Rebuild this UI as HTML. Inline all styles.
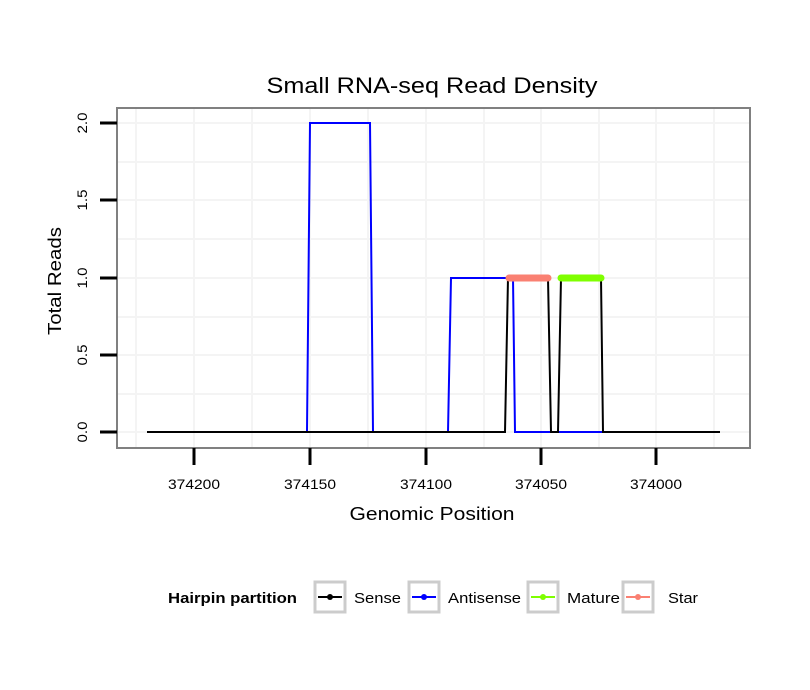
<!DOCTYPE html>
<html><head><meta charset="utf-8"><style>body{margin:0;background:#fff}svg{display:block;font-family:"Liberation Sans",sans-serif}</style></head><body>
<svg width="810" height="690" viewBox="0 0 810 690" xmlns="http://www.w3.org/2000/svg">
<rect width="810" height="690" fill="#fff"/>
<g stroke="#f4f4f4" stroke-width="2">
<line x1="136" y1="109" x2="136" y2="447"/><line x1="252" y1="109" x2="252" y2="447"/><line x1="368" y1="109" x2="368" y2="447"/><line x1="484" y1="109" x2="484" y2="447"/><line x1="599" y1="109" x2="599" y2="447"/><line x1="714" y1="109" x2="714" y2="447"/>
<line x1="194" y1="109" x2="194" y2="447"/><line x1="310" y1="109" x2="310" y2="447"/><line x1="426" y1="109" x2="426" y2="447"/><line x1="541" y1="109" x2="541" y2="447"/><line x1="656" y1="109" x2="656" y2="447"/>
<line x1="118" y1="394" x2="749" y2="394"/><line x1="118" y1="317" x2="749" y2="317"/><line x1="118" y1="239" x2="749" y2="239"/><line x1="118" y1="162" x2="749" y2="162"/>
<line x1="118" y1="432" x2="749" y2="432"/><line x1="118" y1="355" x2="749" y2="355"/><line x1="118" y1="278" x2="749" y2="278"/><line x1="118" y1="200" x2="749" y2="200"/><line x1="118" y1="123" x2="749" y2="123"/>
</g>
<polyline fill="none" stroke="#0000ff" stroke-width="2" points="147,432 307,432 310,123 370,123 373,432 448,432 451,278 508,278"/>
<polyline fill="none" stroke="#0000ff" stroke-width="2" points="513,278 515,432 602,432"/>
<polyline fill="none" stroke="#000" stroke-width="2" points="147,432 505,432 508,278 548,278 551,432 558,432 561,278 601,278 603,432 720,432"/>
<line x1="509" y1="278" x2="548" y2="278" stroke="#fa8072" stroke-width="7" stroke-linecap="round"/>
<line x1="561" y1="278" x2="601" y2="278" stroke="#7fff00" stroke-width="7" stroke-linecap="round"/>
<rect x="117" y="108" width="633" height="340" fill="none" stroke="#808080" stroke-width="2"/>
<g stroke="#000" stroke-width="3">
<line x1="100" y1="432" x2="117" y2="432"/><line x1="100" y1="355" x2="117" y2="355"/><line x1="100" y1="278" x2="117" y2="278"/><line x1="100" y1="200" x2="117" y2="200"/><line x1="100" y1="123" x2="117" y2="123"/>
<line x1="194" y1="448" x2="194" y2="465"/><line x1="310" y1="448" x2="310" y2="465"/><line x1="426" y1="448" x2="426" y2="465"/><line x1="541" y1="448" x2="541" y2="465"/><line x1="656" y1="448" x2="656" y2="465"/>
</g>
<g font-size="14" text-anchor="middle" lengthAdjust="spacingAndGlyphs">
<text x="194" y="489" textLength="52" lengthAdjust="spacingAndGlyphs">374200</text><text x="310" y="489" textLength="52" lengthAdjust="spacingAndGlyphs">374150</text><text x="426" y="489" textLength="52" lengthAdjust="spacingAndGlyphs">374100</text><text x="541" y="489" textLength="52" lengthAdjust="spacingAndGlyphs">374050</text><text x="656" y="489" textLength="52" lengthAdjust="spacingAndGlyphs">374000</text>
<text transform="translate(87,432) rotate(-90)" textLength="21" lengthAdjust="spacingAndGlyphs">0.0</text><text transform="translate(87,355) rotate(-90)" textLength="21" lengthAdjust="spacingAndGlyphs">0.5</text><text transform="translate(87,278) rotate(-90)" textLength="21" lengthAdjust="spacingAndGlyphs">1.0</text><text transform="translate(87,200) rotate(-90)" textLength="21" lengthAdjust="spacingAndGlyphs">1.5</text><text transform="translate(87,123) rotate(-90)" textLength="21" lengthAdjust="spacingAndGlyphs">2.0</text>
</g>
<text x="432" y="93" font-size="22" text-anchor="middle" textLength="331" lengthAdjust="spacingAndGlyphs">Small RNA-seq Read Density</text>
<text x="432" y="520" font-size="18" text-anchor="middle" textLength="165" lengthAdjust="spacingAndGlyphs">Genomic Position</text>
<text transform="translate(61,281) rotate(-90)" font-size="18" text-anchor="middle" textLength="108" lengthAdjust="spacingAndGlyphs">Total Reads</text>
<text x="168" y="603" font-size="15" font-weight="bold" textLength="129" lengthAdjust="spacingAndGlyphs">Hairpin partition</text>
<g stroke="#cccccc" stroke-width="3" fill="#fff">
<rect x="315" y="582" width="30" height="30"/><rect x="409" y="582" width="30" height="30"/><rect x="528" y="582" width="30" height="30"/><rect x="623" y="582" width="30" height="30"/>
</g>
<g stroke-width="2">
<line x1="318" y1="597" x2="342" y2="597" stroke="#000"/><circle cx="330" cy="597" r="3" fill="#000"/>
<line x1="412" y1="597" x2="436" y2="597" stroke="#0000ff"/><circle cx="424" cy="597" r="3" fill="#0000ff"/>
<line x1="531" y1="597" x2="555" y2="597" stroke="#7fff00"/><circle cx="543" cy="597" r="3" fill="#7fff00"/>
<line x1="626" y1="597" x2="650" y2="597" stroke="#fa8072"/><circle cx="638" cy="597" r="3" fill="#fa8072"/>
</g>
<g font-size="15">
<text x="354" y="603" textLength="47" lengthAdjust="spacingAndGlyphs">Sense</text><text x="448" y="603" textLength="73" lengthAdjust="spacingAndGlyphs">Antisense</text><text x="567" y="603" textLength="53" lengthAdjust="spacingAndGlyphs">Mature</text><text x="668" y="603" textLength="30" lengthAdjust="spacingAndGlyphs">Star</text>
</g>
</svg>
</body></html>
